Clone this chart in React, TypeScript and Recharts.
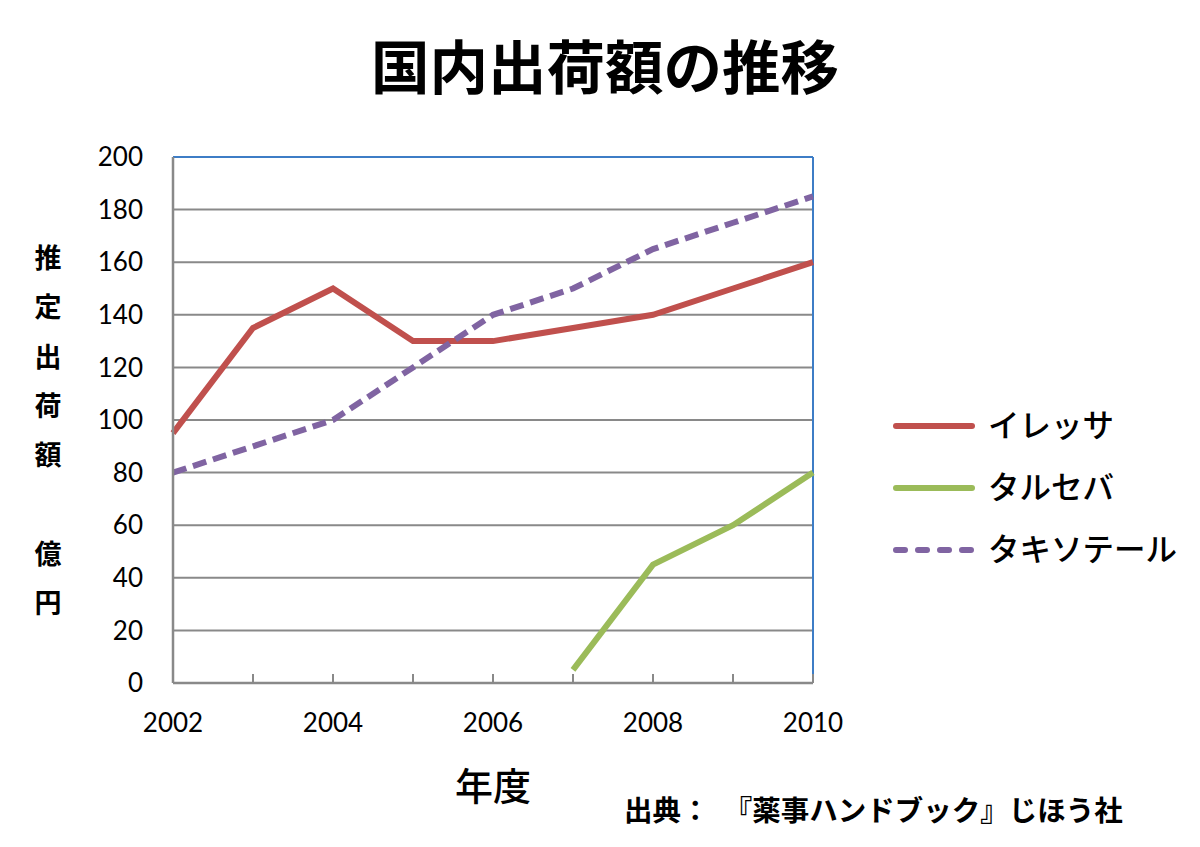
import { LineChart, Line, XAxis, YAxis, CartesianGrid, ReferenceLine, Legend, Label } from 'recharts';

const years = [2002, 2003, 2004, 2005, 2006, 2007, 2008, 2009, 2010];
const iressa = [95, 135, 150, 130, 130, 135, 140, 150, 160];
const tarceva = [null, null, null, null, null, 5, 45, 60, 80];
const taxotere = [80, 90, 100, 120, 140, 150, 165, 175, 185];
const yTicks = [0, 20, 40, 60, 80, 100, 120, 140, 160, 180, 200];
const yLabelChars = ['推', '定', '出', '荷', '額', '', '億', '円'];

const series = [
    { key: 'iressa', name: 'イレッサ', color: '#C0504D', dash: undefined as string | undefined },
    { key: 'tarceva', name: 'タルセバ', color: '#9BBB59', dash: undefined as string | undefined },
    { key: 'taxotere', name: 'タキソテール', color: '#8064A2', dash: '14 7' },
];

const data = years.map((year, i) => ({
    year,
    iressa: iressa[i],
    tarceva: tarceva[i],
    taxotere: taxotere[i],
}));

const JP = '"Noto Sans CJK JP", "Noto Sans", sans-serif';
const NUM = 'Lato, "Noto Sans", sans-serif';
const GRID = '#898989';
const BORDER = '#3D7DC6';

function YearTick(props: any) {
    const { x, y, payload } = props;
    const label = payload.value % 2 === 0;
    return (
        <g>
            <line x1={x} x2={x} y1={y} y2={y - 9} stroke={GRID} strokeWidth={2} />
            {label && (
                <text x={x} y={y + 49} textAnchor="middle" fontSize={26} fontFamily={NUM} fill="#000">
                    {payload.value}
                </text>
            )}
        </g>
    );
}

// keep legend in series order, whatever order recharts hands it over
function LegendBox(props: any) {
    const items = [...(props.payload || [])].sort(
        (a: any, b: any) => series.findIndex(s => s.key === a.dataKey) - series.findIndex(s => s.key === b.dataKey)
    );
    return (
        <svg width={300} height={190}>
            {items.map((it: any, i: number) => {
                const s = series.find(d => d.key === it.dataKey) || series[0];
                const cy = 30 + i * 62;
                return (
                    <g key={s.key}>
                        <line x1={8} x2={84} y1={cy} y2={cy} stroke={s.color} strokeWidth={6}
                            strokeLinecap="round" strokeDasharray={s.dash ? '9 13' : undefined} />
                        <text x={100} y={cy + 11} fontSize={31.5} fontFamily={JP} fontWeight={500} fill="#000">
                            {s.name}
                        </text>
                    </g>
                );
            })}
        </svg>
    );
}

function YTitle() {
    return (
        <g>
            {yLabelChars.map((c, i) => (
                <text key={i} x={48} y={268 + i * 49.3} textAnchor="middle" fontSize={27}
                    fontFamily={JP} fontWeight={700} fill="#000">
                    {c}
                </text>
            ))}
        </g>
    );
}

function XTitle() {
    return (
        <text x={493} y={800} textAnchor="middle" fontSize={38} fontFamily={JP} fontWeight={500} fill="#000">
            年度
        </text>
    );
}

export default function App() {
    return (
        <div style={{ position: 'absolute', left: 0, top: 0, width: 1200, height: 847, background: '#fff' }}>
            <div style={{
                position: 'absolute', left: 0, top: 24, width: 1210, textAlign: 'center',
                fontFamily: JP, fontWeight: 700, fontSize: 58.5, lineHeight: '80px', color: '#000',
            }}>
                国内出荷額の推移
            </div>
            <div style={{
                position: 'absolute', left: 624, top: 789, whiteSpace: 'nowrap',
                fontFamily: JP, fontWeight: 700, fontSize: 28.5, lineHeight: '40px', color: '#000',
            }}>
                出典：　『薬事ハンドブック』じほう社
            </div>
            <LineChart width={1200} height={847} data={data}
                margin={{ top: 157, right: 387, left: 0, bottom: 0 }}>
                <CartesianGrid vertical={false} stroke={GRID} strokeWidth={2} />
                <XAxis dataKey="year" type="number" domain={[2002, 2010]} ticks={years}
                    height={164} tickSize={0} tickMargin={0} tickLine={false}
                    axisLine={{ stroke: GRID, strokeWidth: 2.5 }} tick={<YearTick />} interval={0}>
                    <Label content={<XTitle />} />
                </XAxis>
                <YAxis type="number" domain={[0, 200]} ticks={yTicks} width={173}
                    tickSize={0} tickMargin={30} tickLine={false}
                    axisLine={{ stroke: GRID, strokeWidth: 2.5 }}
                    tick={{ fontSize: 26, fontFamily: NUM, fill: '#000' }}>
                    <Label content={<YTitle />} />
                </YAxis>
                <ReferenceLine y={200} stroke={BORDER} strokeWidth={2} />
                <ReferenceLine x={2010} stroke={BORDER} strokeWidth={2} />
                <Legend layout="horizontal" verticalAlign="middle" align="center"
                    wrapperStyle={{ left: 888, top: 396, width: 300, height: 190 }}
                    content={<LegendBox />} />
                {series.map(s => (
                    <Line key={s.key} dataKey={s.key} name={s.name} type="linear" stroke={s.color}
                        strokeWidth={6} strokeDasharray={s.dash} dot={false} activeDot={false}
                        isAnimationActive={false} />
                ))}
            </LineChart>
        </div>
    );
}
